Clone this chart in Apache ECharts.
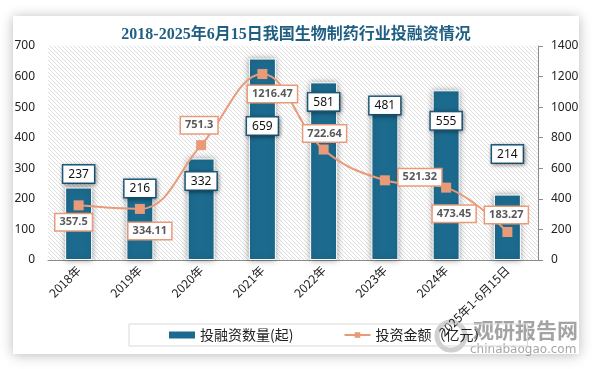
<!DOCTYPE html>
<html>
<head>
<meta charset="utf-8">
<script src="https://cdn.jsdelivr.net/npm/echarts@6/dist/echarts.min.js"></script>
<style>html,body{margin:0;padding:0;background:#fff;}#c{width:592px;height:369px;}</style>
</head>
<body>
<div id="c"></div>
<script>
var categories = ['2018年','2019年','2020年','2021年','2022年','2023年','2024年','2025年1-6月15日'];
var dealCounts = [237, 216, 332, 659, 581, 481, 555, 214];
var amounts = [357.5, 334.11, 751.3, 1216.47, 722.64, 521.32, 473.45, 183.27];
var leftTicks = {min: 0, max: 700, interval: 100};
var rightTicks = {min: 0, max: 1400, interval: 200};
var seriesNames = ['投融资数量(起)', '投资金额（亿元）'];
var titleText = '2018-2025年6月15日我国生物制药行业投融资情况';

// label placement (layout only)
var barLabelOffsets = [[0,0],[0,8],[0,36],[0,81],[0,33],[0,6],[0,44],[0,-27]];
var lineLabelOffsets = [[-5,17],[10,22],[-2,-20],[10,20],[1,-16],[35,-3],[8,26],[-1,-17]];

var hatch = document.createElement('canvas');
hatch.width = 4; hatch.height = 4;
var hc = hatch.getContext('2d');
hc.fillStyle = '#fff'; hc.fillRect(0,0,4,4);
hc.fillStyle = '#dedede';
for (var i = 0; i < 4; i++) hc.fillRect(i, i, 1, 1);

var chart = echarts.init(document.getElementById('c'), null, {renderer: 'canvas'});

var barData = dealCounts.map(function(v, i){
  return {value: v, label: {offset: barLabelOffsets[i]}};
});
var lineData = amounts.map(function(v, i){
  return {value: v, label: {offset: lineLabelOffsets[i]}};
});

chart.setOption({
  backgroundColor: '#fff',
  animation: false,
  title: {
    text: titleText,
    left: 'center',
    top: 22,
    textStyle: {fontFamily: 'Liberation Serif, Noto Sans CJK SC', fontWeight: 'bold', fontSize: 16, color: '#1f5f84'}
  },
  graphic: [
    {type: 'rect', z: -10, shape: {x: 13, y: 16, width: 566, height: 338},
     style: {fill: '#fff', shadowBlur: 12, shadowColor: 'rgba(0,0,0,0.28)', shadowOffsetX: 0, shadowOffsetY: 1}},
    {type: 'circle', shape: {cx: 451, cy: 336, r: 14}, style: {fill: 'none', stroke: 'rgba(150,150,150,0.45)', lineWidth: 5}},
    {type: 'text', left: 473, top: 320, style: {text: '观研报告网', font: 'bold 21px "Noto Sans CJK SC"', fill: 'rgba(140,140,140,0.8)'}},
    {type: 'text', left: 470, top: 344, style: {text: 'chinabaogao.com', font: '12px "DejaVu Sans"', fill: 'rgba(150,150,150,0.85)'}}
  ],
  grid: {
    left: 48, right: 54, top: 46, bottom: 109,
    show: true, borderWidth: 0,
    backgroundColor: {image: hatch, repeat: 'repeat'}
  },
  legend: {
    left: 129, top: 324,
    padding: [4, 40, 4, 40],
    itemGap: 50,
    borderColor: '#d9d9d9', borderWidth: 1,
    textStyle: {fontFamily: 'Noto Sans CJK SC', fontSize: 14, color: '#222'},
    data: [
      {name: seriesNames[0], icon: 'rect', itemStyle: {color: '#1c6b8f', borderWidth: 0}},
      {name: seriesNames[1]}
    ],
    itemWidth: 26, itemHeight: 7
  },
  xAxis: {
    type: 'category',
    data: categories,
    axisLine: {lineStyle: {color: '#8c8c8c', width: 1}},
    axisTick: {show: false},
    axisLabel: {rotate: 45, fontFamily: 'Noto Sans CJK SC', fontSize: 12, color: '#222', margin: 8, interval: 0}
  },
  yAxis: [
    {type: 'value', min: leftTicks.min, max: leftTicks.max, interval: leftTicks.interval,
     splitLine: {show: false}, axisLine: {show: false}, axisTick: {show: false},
     axisLabel: {fontFamily: 'Noto Sans', fontSize: 12, color: '#222', margin: 13, formatter: function(v){return String(v);}}},
    {type: 'value', min: rightTicks.min, max: rightTicks.max, interval: rightTicks.interval,
     splitLine: {show: false},
     axisLine: {show: true, lineStyle: {color: '#8c8c8c'}},
     axisTick: {show: true, length: 5, lineStyle: {color: '#8c8c8c'}},
     axisLabel: {fontFamily: 'Noto Sans', fontSize: 12, color: '#222', margin: 13, formatter: function(v){return String(v);}}}
  ],
  series: [
    {
      name: seriesNames[0], type: 'bar', yAxisIndex: 0, barWidth: 27,
      data: barData,
      itemStyle: {color: '#1c6b8f', borderColor: '#fff', borderWidth: 1, shadowBlur: 6, shadowColor: 'rgba(0,0,0,0.35)'},
      label: {
        show: true, position: 'top', distance: 5,
        fontFamily: 'Noto Sans', fontSize: 12, color: '#111',
        backgroundColor: '#fff', borderColor: '#1f5f84', borderWidth: 1.5,
        padding: [3, 5, 2, 5],
        shadowBlur: 4, shadowColor: 'rgba(0,0,0,0.35)', shadowOffsetX: 1, shadowOffsetY: 1
      },
      z: 2
    },
    {
      name: seriesNames[1], type: 'line', yAxisIndex: 1, smooth: 0.4,
      data: lineData,
      symbol: 'rect', symbolSize: 10,
      lineStyle: {color: '#e99a78', width: 2},
      itemStyle: {color: '#e99a78'},
      label: {
        show: true, position: 'inside',
        fontFamily: 'Noto Sans', fontSize: 11, fontWeight: 'bold', color: '#595959',
        backgroundColor: '#fff', borderColor: '#e99a78', borderWidth: 1.5,
        padding: [3, 4, 2, 4]
      },
      z: 3
    }
  ]
});
</script>
</body>
</html>
